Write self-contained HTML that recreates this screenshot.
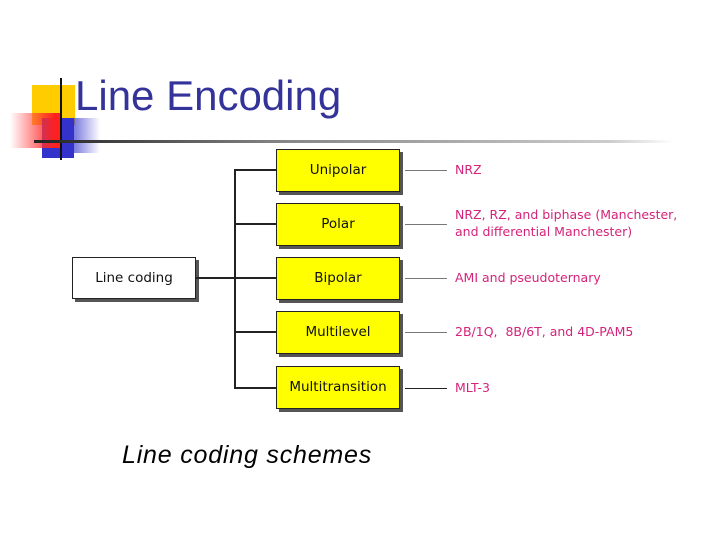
<!DOCTYPE html>
<html><head><meta charset="utf-8"><style>
body{margin:0;width:720px;height:540px;background:#fff;position:relative;overflow:hidden;font-family:"DejaVu Sans","Liberation Sans",sans-serif}
.a{position:absolute}
.box{position:absolute;background:#ffff00;border:1px solid #222;box-shadow:3px 3px 0 #555;text-align:center;font-size:13.5px;color:#111;box-sizing:border-box}
.t{position:absolute;left:455px;color:#d4237a;font-size:12.5px;line-height:17px}
.h{position:absolute;height:1px;background:#777;left:405px;width:42px}
</style></head><body>
<div class="a" style="left:32px;top:85px;width:43px;height:40px;background:#ffcc00"></div>
<div class="a" style="left:42px;top:118px;width:32px;height:40px;background:#3333cc"></div>
<div class="a" style="left:10px;top:113px;width:50px;height:35px;background:linear-gradient(to right,rgba(255,255,255,0.2),#ff2020 90%)"></div>
<div class="a" style="left:60px;top:118px;width:40px;height:35px;background:linear-gradient(to right,#3333cc,rgba(255,255,255,0))"></div>
<div class="a" style="left:60px;top:78px;width:2px;height:82px;background:#111"></div>
<div class="a" style="left:34px;top:140px;width:640px;height:3px;background:linear-gradient(to right,#222,#888 40%,#ccc 90%,#fff)"></div>
<div class="a" style="left:75px;top:72px;font-family:'Liberation Sans',sans-serif;font-size:42px;color:#333399">Line Encoding</div>

<div class="box" style="left:72px;top:257px;width:124px;height:42px;background:#fff;line-height:40px">Line coding</div>
<div class="a" style="left:196px;top:277px;width:80px;height:2px;background:#222"></div>
<div class="a" style="left:234px;top:169px;width:2px;height:220px;background:#222"></div>
<div class="a" style="left:234px;top:169px;width:42px;height:2px;background:#222"></div>
<div class="a" style="left:234px;top:223px;width:42px;height:2px;background:#222"></div>
<div class="a" style="left:234px;top:331px;width:42px;height:2px;background:#222"></div>
<div class="a" style="left:234px;top:387px;width:42px;height:2px;background:#222"></div>

<div class="box" style="left:276px;top:149px;width:124px;height:43px;line-height:41px">Unipolar</div>
<div class="box" style="left:276px;top:203px;width:124px;height:43px;line-height:41px">Polar</div>
<div class="box" style="left:276px;top:257px;width:124px;height:43px;line-height:41px">Bipolar</div>
<div class="box" style="left:276px;top:311px;width:124px;height:43px;line-height:41px">Multilevel</div>
<div class="box" style="left:276px;top:366px;width:124px;height:43px;line-height:41px">Multitransition</div>

<div class="h" style="top:170px"></div>
<div class="h" style="top:224px"></div>
<div class="h" style="top:278px"></div>
<div class="h" style="top:332px"></div>
<div class="h" style="top:388px;background:#222"></div>
<div class="t" style="top:161px">NRZ</div>
<div class="t" style="top:206px">NRZ, RZ, and biphase (Manchester,<br>and differential Manchester)</div>
<div class="t" style="top:269px">AMI and pseudoternary</div>
<div class="t" style="top:323px">2B/1Q,&nbsp; 8B/6T, and 4D-PAM5</div>
<div class="t" style="top:379px">MLT-3</div>

<div class="a" style="left:122px;top:441px;font-family:'Liberation Sans',sans-serif;font-style:italic;font-size:25px;letter-spacing:0.8px;color:#000">Line coding schemes</div>
</body></html>
